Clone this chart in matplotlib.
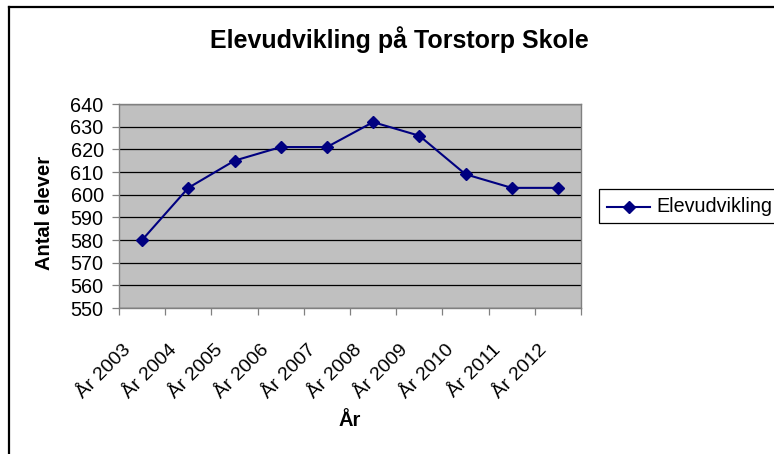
import matplotlib
matplotlib.use("Agg")
import matplotlib.pyplot as plt
from matplotlib.patches import Rectangle
from matplotlib.lines import Line2D
from matplotlib.transforms import ScaledTranslation

plt.rcParams['font.family'] = ['Liberation Sans', 'DejaVu Sans']

# data
years = ['År 2003', 'År 2004', 'År 2005', 'År 2006', 'År 2007',
         'År 2008', 'År 2009', 'År 2010', 'År 2011', 'År 2012']
students = [580, 603, 615, 621, 621, 632, 626, 609, 603, 603]
y_ticks = [550, 560, 570, 580, 590, 600, 610, 620, 630, 640]

W, H = 774, 454
fig = plt.figure(figsize=(W / 100, H / 100), dpi=100)

# chart area border (only left and top edges are inside the picture)
fig.add_artist(Line2D([9 / W, 9 / W], [0, 1 - 7 / H], color='black', lw=1.6,
                      transform=fig.transFigure))
fig.add_artist(Line2D([9 / W, 1], [1 - 7 / H, 1 - 7 / H], color='black', lw=1.6,
                      transform=fig.transFigure))

ax = fig.add_axes([119 / W, 1 - 308 / H, (581 - 119) / W, (308 - 104) / H])
ax.set_facecolor('#C0C0C0')
for s in ax.spines.values():
    s.set_color('#808080')
    s.set_linewidth(1.0)

x = list(range(len(years)))
ax.plot(x, students, color='#000080', lw=1.5, marker='D', markersize=6,
        markerfacecolor='#000080', markeredgecolor='#000080', zorder=3)

ax.set_xlim(-0.5, len(years) - 0.5)
ax.set_ylim(y_ticks[0], y_ticks[-1])
ax.set_yticks(y_ticks)
ax.yaxis.grid(True, color='black', lw=0.9)
ax.set_axisbelow(True)
ax.tick_params(axis='y', direction='out', length=5, width=0.9, color='#808080',
               pad=6, labelsize=14.3)

# ticks between categories, labels at category centres
ax.set_xticks([i - 0.5 for i in range(len(years) + 1)])
ax.set_xticklabels([])
ax.tick_params(axis='x', which='major', direction='out', length=5, width=0.9,
               color='#808080')
ax.set_xticks(x, minor=True)
ax.set_xticklabels(years, minor=True)
ax.tick_params(axis='x', which='minor', length=0, pad=0, labelsize=14)
shift = ScaledTranslation(-14 / 100, -39 / 100, fig.dpi_scale_trans)
for lab in ax.get_xticklabels(minor=True):
    lab.set_rotation(45)
    lab.set_rotation_mode('anchor')
    lab.set_ha('right')
    lab.set_va('center')
    lab.set_transform(lab.get_transform() + shift)

fig.text(399 / W, 1 - 40 / H, 'Elevudvikling på Torstorp Skole', ha='center',
         va='center', fontsize=18, fontweight='bold')
fig.text(45 / W, 1 - 213 / H, 'Antal elever', ha='center', va='center',
         rotation=90, fontsize=14.5, fontweight='bold')
fig.text(350 / W, 1 - 420 / H, 'År', ha='center', va='center',
         fontsize=14.5, fontweight='bold')

# legend box
fig.add_artist(Rectangle((599 / W, 1 - 223 / H), 200 / W, 34 / H,
                         transform=fig.transFigure, facecolor='white',
                         edgecolor='black', lw=0.9))
fig.add_artist(Line2D([607 / W, 650 / W], [1 - 207 / H, 1 - 207 / H],
                      color='#000080', lw=1.5, transform=fig.transFigure))
fig.add_artist(Line2D([628.5 / W], [1 - 207 / H], color='#000080', marker='D',
                      markersize=6, transform=fig.transFigure))
fig.text(656 / W, 1 - 207 / H, 'Elevudvikling', ha='left', va='center',
         fontsize=14.2)

fig.savefig('out.png', dpi=100)
